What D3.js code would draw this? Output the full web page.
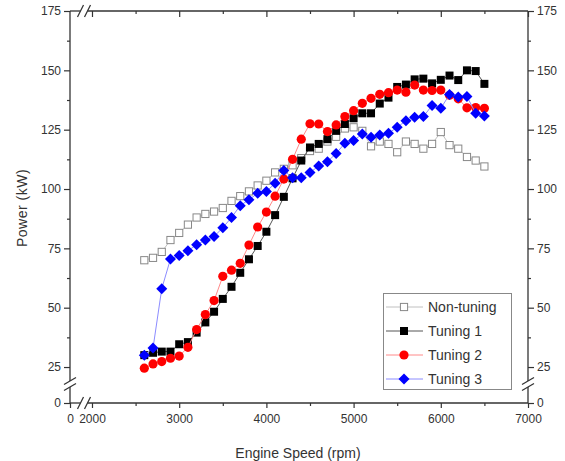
<!DOCTYPE html>
<html>
<head>
<meta charset="utf-8">
<script src="https://cdn.jsdelivr.net/npm/d3@7/dist/d3.min.js"></script>
<style>
  body { margin: 0; background: #fff; }
  svg text { font-family: "Liberation Sans", Arial, sans-serif; fill: #333; }
</style>
</head>
<body>
<svg id="chart" width="565" height="461"></svg>
<script>
//engine speed of every measured point (rpm)
var engineSpeed = [2600, 2700, 2800, 2900, 3000, 3100, 3200, 3300, 3400, 3500,
                   3600, 3700, 3800, 3900, 4000, 4100, 4200, 4300, 4400, 4500,
                   4600, 4700, 4800, 4900, 5000, 5100, 5200, 5300, 5400, 5500,
                   5600, 5700, 5800, 5900, 6000, 6100, 6200, 6300, 6400, 6500];

//power in kW for each setting
var nonTuning = [70, 71, 73.5, 78.5, 81.5, 85, 88, 89.5, 90.5, 92,
                 95, 97, 99, 101.5, 103.5, 107, 108.5, 110, 113, 116,
                 117, 120, 122, 125.5, 126, 124.5, 118, 120, 119, 115.5,
                 120, 119, 117, 119, 124, 118.5, 117, 113.5, 112, 109.5];
var tuning1 = [30, 31, 31.5, 31.5, 34.6, 35.5, 39.5, 43.8, 48.3, 53.7,
               58.8, 64.7, 70.4, 76, 82, 89, 96.7, 104.5, 112, 117.5,
               119, 121, 124.5, 127.4, 129.8, 131.9, 131.9, 136, 138.5, 143,
               144, 146.2, 146.5, 144.5, 146, 147.8, 145.9, 150, 149.7, 144.3];
var tuning2 = [24.5, 26.3, 27.3, 28.7, 29.6, 33.3, 40.8, 47.1, 53, 63.2,
               65.8, 68.7, 76.4, 84, 90.3, 97, 104.2, 112.5, 121, 127.5,
               127.4, 124.2, 127, 130.5, 133, 136.1, 138.2, 139.9, 140.6, 141.7,
               140.8, 143.8, 141.7, 141.5, 141.7, 139.5, 138, 134.2, 134.3, 134];
var tuning3 = [30, 33, 58, 70.5, 72, 74, 76.5, 78.5, 80, 83.7,
               88, 93, 95.5, 98.2, 99, 102.4, 107.8, 104.7, 104.7, 107,
               109.7, 111.5, 115, 119.3, 120.4, 123.2, 121.8, 122.8, 123.5, 126,
               128.8, 130.2, 130.5, 135.2, 134, 139.8, 138.8, 139, 131.9, 130.8];

var seriesNames = ["Non-tuning", "Tuning 1", "Tuning 2", "Tuning 3"];

//tick values and labels
var yTicks = [0, 25, 50, 75, 100, 125, 150, 175];
var yMinorTicks = [37.5, 62.5, 87.5, 112.5, 137.5, 162.5];
var xTicks = [0, 2000, 3000, 4000, 5000, 6000, 7000];
var xMinorTicks = [2500, 3500, 4500, 5500, 6500];

var chart = {};

//both axes are broken, so the scales are piecewise
chart.x = d3.scaleLinear()
  .domain([0, 1000, 1960, 7000])
  .range([70, 80, 88.5, 528]);

chart.y = d3.scaleLinear()
  .domain([0, 6, 20, 175])
  .range([403, 388.8, 378.9, 11]);

chart.svg = d3.select("#chart");

//styles for each series
chart.styles = [
  {line : "#c0c0c0", shape : "square", fill : "#fff", stroke : "#888"},
  {line : "#555", shape : "square", fill : "#000", stroke : "#000"},
  {line : "#ff8a8a", shape : "circle", fill : "#ff0000", stroke : "#ff0000"},
  {line : "#8c8cff", shape : "diamond", fill : "#0000ff", stroke : "#0000ff"}
];

//draws a marker shape onto a group at given position
chart.marker = function (g, style, cx, cy) {
  if (style.shape === "square") {
    var half = style.fill === "#fff" ? 3.6 : 4;
    g.append("rect")
      .attr("x", cx - half)
      .attr("y", cy - half)
      .attr("width", half * 2)
      .attr("height", half * 2)
      .attr("fill", style.fill)
      .attr("stroke", style.stroke)
      .attr("stroke-width", style.fill === "#fff" ? 1 : 0);
  } else if (style.shape === "circle") {
    g.append("circle")
      .attr("cx", cx)
      .attr("cy", cy)
      .attr("r", 4.6)
      .attr("fill", style.fill);
  } else {
    g.append("path")
      .attr("d", "M" + cx + "," + (cy - 5.5) + "L" + (cx + 5.5) + "," + cy +
                 "L" + cx + "," + (cy + 5.5) + "L" + (cx - 5.5) + "," + cy + "Z")
      .attr("fill", style.fill);
  }
};

chart.drawAxes = function () {
  var svg = chart.svg;
  var axisColor = "#333";

  //left axis, labels and ticks outside
  svg.append("g").attr("transform", "translate(70,0)")
    .call(d3.axisLeft(chart.y).tickValues(yTicks).tickSize(6).tickPadding(3));
  svg.append("g").attr("transform", "translate(70,0)")
    .call(d3.axisLeft(chart.y).tickValues(yMinorTicks).tickSize(3).tickFormat(""));

  //right axis mirrors the left one
  svg.append("g").attr("transform", "translate(528,0)")
    .call(d3.axisRight(chart.y).tickValues(yTicks).tickSize(6).tickPadding(3));
  svg.append("g").attr("transform", "translate(528,0)")
    .call(d3.axisRight(chart.y).tickValues(yMinorTicks).tickSize(3).tickFormat(""));

  //bottom axis, plain numbers without thousands separator
  svg.append("g").attr("transform", "translate(0,403)")
    .call(d3.axisBottom(chart.x).tickValues(xTicks).tickSize(5).tickPadding(6).tickFormat(d3.format("d")));
  svg.append("g").attr("transform", "translate(0,403)")
    .call(d3.axisBottom(chart.x).tickValues(xMinorTicks).tickSize(3).tickFormat(""));

  //top axis has ticks pointing into the plot and no labels
  svg.append("g").attr("transform", "translate(0,11)")
    .call(d3.axisTop(chart.x).tickValues(xTicks.slice(1)).tickSize(-6).tickFormat(""));
  svg.append("g").attr("transform", "translate(0,11)")
    .call(d3.axisTop(chart.x).tickValues(xMinorTicks).tickSize(-3).tickFormat(""));

  svg.selectAll(".domain").remove();
  svg.selectAll(".tick line").attr("stroke", axisColor).attr("stroke-width", 1.2);
  svg.selectAll(".tick text").attr("font-size", 12).attr("fill", "#333");

  //axis lines drawn in pieces because of the breaks
  var segments = [
    [70, 403, 70, 387], [70, 381, 70, 11],
    [528, 403, 528, 387], [528, 381, 528, 11],
    [70, 403, 80.5, 403], [87.5, 403, 528, 403],
    [70, 11, 80.5, 11], [87.5, 11, 528, 11]
  ];
  svg.append("g").selectAll("line")
    .data(segments)
    .enter().append("line")
    .attr("x1", function (d) { return d[0]; })
    .attr("y1", function (d) { return d[1]; })
    .attr("x2", function (d) { return d[2]; })
    .attr("y2", function (d) { return d[3]; })
    .attr("stroke", axisColor)
    .attr("stroke-width", 1.3);

  //break marks, two slanted strokes each
  var breaks = [
    [64, 390.5, 76, 383.5], [64, 384.5, 76, 377.5],
    [522, 390.5, 534, 383.5], [522, 384.5, 534, 377.5],
    [77.5, 409, 83.5, 397], [84.5, 409, 90.5, 397],
    [77.5, 17, 83.5, 5], [84.5, 17, 90.5, 5]
  ];
  svg.append("g").selectAll("line")
    .data(breaks)
    .enter().append("line")
    .attr("x1", function (d) { return d[0]; })
    .attr("y1", function (d) { return d[1]; })
    .attr("x2", function (d) { return d[2]; })
    .attr("y2", function (d) { return d[3]; })
    .attr("stroke", axisColor)
    .attr("stroke-width", 1.3);

  //axis titles
  svg.append("text")
    .attr("transform", "translate(27,208) rotate(-90)")
    .attr("text-anchor", "middle")
    .attr("font-size", 14)
    .attr("letter-spacing", 0.5)
    .text("Power (kW)");

  svg.append("text")
    .attr("x", 298)
    .attr("y", 458)
    .attr("text-anchor", "middle")
    .attr("font-size", 14)
    .text("Engine Speed (rpm)");
};

chart.drawSeries = function () {
  var allSeries = [nonTuning, tuning1, tuning2, tuning3];

  allSeries.forEach(function (values, i) {
    var style = chart.styles[i];
    var points = engineSpeed.map(function (speed, j) {
      return [chart.x(speed), chart.y(values[j])];
    });

    var g = chart.svg.append("g");

    g.append("path")
      .attr("d", d3.line()(points))
      .attr("fill", "none")
      .attr("stroke", style.line)
      .attr("stroke-width", 1);

    points.forEach(function (p) {
      chart.marker(g, style, p[0], p[1]);
    });
  });
};

chart.drawLegend = function () {
  var svg = chart.svg;
  var legend = svg.append("g");

  legend.append("rect")
    .attr("x", 383.5)
    .attr("y", 293.5)
    .attr("width", 128)
    .attr("height", 96)
    .attr("fill", "#fff")
    .attr("stroke", "#888")
    .attr("stroke-width", 1);

  seriesNames.forEach(function (name, i) {
    var rowY = 307 + i * 24;
    var style = chart.styles[i];

    legend.append("line")
      .attr("x1", 386)
      .attr("x2", 423)
      .attr("y1", rowY)
      .attr("y2", rowY)
      .attr("stroke", style.line)
      .attr("stroke-width", 1);

    chart.marker(legend, style, 404, rowY);

    legend.append("text")
      .attr("x", 428)
      .attr("y", rowY + 5)
      .attr("font-size", 14)
      .text(name);
  });
};

chart.drawAxes();
chart.drawSeries();
chart.drawLegend();
</script>
</body>
</html>
